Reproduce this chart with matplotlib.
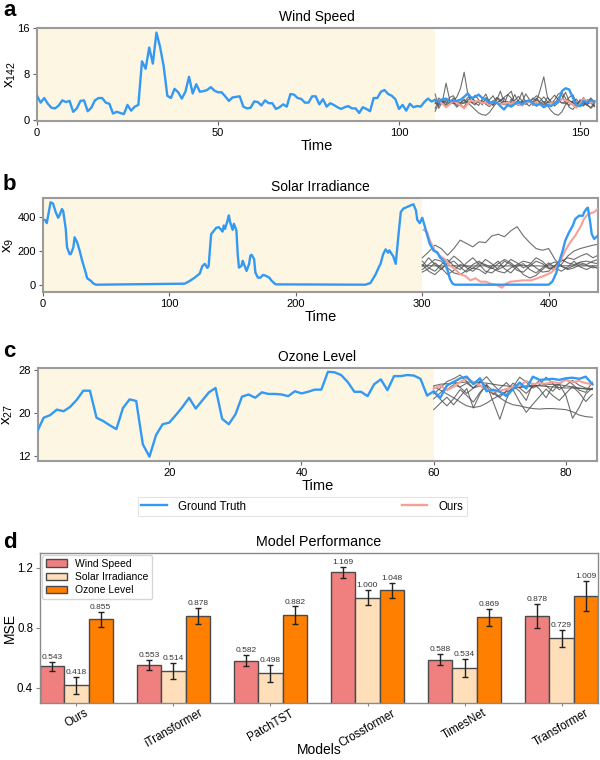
import matplotlib
matplotlib.use('Agg')
import matplotlib.pyplot as plt
import numpy as np
from matplotlib.lines import Line2D

plt.rcParams['font.family'] = ['Liberation Sans', 'DejaVu Sans']
plt.rcParams['mathtext.fontset'] = 'custom'
plt.rcParams['mathtext.rm'] = 'Liberation Sans'
plt.rcParams['mathtext.it'] = 'Liberation Sans:italic'

# ---------------- data ----------------
# Panel a: Wind Speed (x142)
wind_history = [4.2, 3.0, 3.8, 2.8, 2.1, 2.0, 2.5, 3.4, 3.1, 3.3,
                1.4, 2.0, 3.3, 3.4, 1.5, 2.1, 3.4, 3.8, 3.8, 3.0,
                2.8, 1.1, 1.4, 1.2, 1.0, 2.6, 1.6, 2.3, 2.6, 10.2,
                8.9, 12.6, 9.8, 15.2, 12.7, 9.3, 4.2, 3.8, 5.4, 4.8,
                3.7, 4.9, 7.5, 4.6, 6.2, 4.9, 5.0, 5.2, 5.7, 5.1,
                4.8, 4.8, 4.1, 3.3, 3.9, 4.0, 4.1, 2.3, 2.0, 2.1,
                3.2, 3.1, 2.5, 3.4, 2.9, 2.9, 1.9, 2.2, 2.7, 2.3,
                4.5, 4.4, 3.8, 3.65, 3.0, 3.0, 4.1, 4.1, 2.7, 3.6,
                2.3, 2.9, 2.6, 2.2, 1.9, 2.2, 2.4, 2.0, 2.0, 1.2,
                2.2, 1.9, 1.5, 3.8, 3.8, 4.9, 5.2, 4.5, 4.2, 3.6,
                1.9, 2.6, 1.6, 2.8, 2.2, 2.4, 2.3, 3.1, 3.7, 3.2]
wind_future = [3.5, 3.1, 3.6, 3.7, 3.2, 3.4, 3.3, 3.5, 4.0, 4.6,
               3.8, 4.0, 4.4, 3.8, 3.5, 2.9, 3.2, 3.0, 2.4, 1.8,
               2.6, 2.3, 2.8, 3.1, 2.7, 3.2, 3.4, 2.9, 2.5, 2.8,
               2.2, 2.6, 2.4, 2.9, 3.1, 5.0, 5.5, 5.3, 3.9, 2.6,
               2.4, 3.3, 3.0, 3.4, 3.2]
wind_ours = [3.5, 3.2, 2.8, 2.2, 2.7, 3.3, 3.0, 2.5, 2.0, 2.8,
             3.4, 3.1, 3.3, 2.9, 3.0, 2.6, 3.2, 3.1, 2.6, 2.9,
             3.0, 2.8, 3.1, 2.7, 2.5, 3.0, 3.2, 2.8, 3.1, 2.7,
             2.3, 2.5, 3.0, 2.8, 3.2, 3.6, 3.4, 3.1, 2.6, 2.1,
             2.8, 3.7, 3.2, 3.0, 3.3]
wind_others = [
    [2.0, 3.5, 2.8, 3.6, 3.0, 3.3, 4.0, 5.5, 8.3, 4.5, 3.0, 2.6, 3.4, 3.1, 2.8,
     3.5, 4.2, 2.9, 3.3, 3.8, 2.7, 3.1, 4.4, 3.0, 2.6, 3.4, 3.0, 3.8, 3.2, 5.2,
     7.5, 4.0, 3.0, 2.6, 3.9, 4.3, 3.0, 2.5, 3.3, 3.6, 2.8, 2.4, 3.5, 2.9, 2.4],
    [4.5, 2.0, 3.2, 6.4, 3.5, 3.0, 2.2, 3.0, 3.6, 2.8, 3.2, 4.3, 3.5, 2.6, 3.9,
     3.2, 2.5, 3.4, 5.0, 3.1, 2.4, 3.6, 2.9, 3.3, 4.8, 2.7, 3.4, 2.5, 3.8, 3.0,
     2.7, 3.9, 3.2, 2.4, 3.0, 3.6, 4.8, 3.3, 2.9, 2.2, 3.5, 3.0, 2.6, 3.8, 3.1],
    [3.0, 2.5, 3.4, 3.0, 2.8, 3.2, 2.5, 3.0, 3.4, 3.0, 2.4, 1.8, 1.2, 0.9, 0.8,
     1.3, 2.2, 3.0, 3.4, 3.9, 4.4, 3.8, 3.0, 2.6, 3.3, 2.8, 3.2, 3.6, 4.2, 3.8,
     3.0, 2.5, 1.6, 1.0, 0.8, 1.4, 2.6, 3.4, 3.0, 2.7, 3.3, 2.9, 2.5, 2.2, 2.9],
    [2.8, 3.8, 3.3, 2.6, 3.9, 4.2, 3.1, 2.7, 3.0, 3.9, 4.0, 3.0, 2.5, 3.6, 4.5,
     3.0, 2.6, 3.8, 3.2, 2.6, 4.3, 5.0, 3.0, 2.5, 3.1, 4.5, 3.6, 2.8, 2.4, 3.3,
     4.0, 3.2, 2.8, 3.5, 4.5, 4.8, 3.8, 2.2, 1.8, 2.6, 3.0, 3.9, 2.7, 2.0, 2.6],
    [3.3, 2.9, 3.0, 3.3, 3.1, 2.8, 3.2, 3.0, 2.9, 3.3, 3.1, 2.9, 3.2, 3.0, 3.1,
     2.9, 3.3, 3.0, 2.8, 3.2, 3.1, 2.9, 3.0, 3.3, 3.0, 2.8, 3.1, 3.2, 2.9, 3.0,
     3.2, 3.0, 2.9, 3.1, 3.3, 3.0, 2.8, 3.1, 3.2, 2.9, 3.0, 3.1, 2.8, 3.0, 3.1],
    [1.5, 2.9, 3.1, 2.4, 3.0, 3.8, 3.2, 2.6, 2.2, 3.5, 3.8, 3.3, 3.0, 3.4, 2.7,
     2.3, 3.0, 3.9, 3.5, 3.0, 3.2, 2.6, 3.4, 4.1, 3.3, 2.9, 2.4, 3.2, 3.7, 2.9,
     2.5, 3.0, 3.6, 4.3, 3.5, 2.9, 3.2, 3.9, 4.4, 3.1, 2.3, 2.7, 3.3, 3.7, 2.3],
]

# Panel b: Solar Irradiance (x9), (time, value) samples
solar_truth = [(0, 388), (2, 382), (3, 366), (6, 490), (8, 482), (10, 432), (12, 398),
               (13, 412), (15, 450), (16, 437), (18, 332), (19, 222), (21, 182), (22, 182),
               (24, 222), (25, 282), (27, 252), (29, 202), (31, 142), (33, 92), (35, 38),
               (38, 22), (40, 6), (42, 0), (112, 6), (116, 22), (120, 42), (124, 66),
               (126, 110), (128, 124), (130, 100), (131, 110), (133, 300), (137, 338),
               (139, 342), (141, 326), (142, 316), (143, 352), (144, 332), (146, 382),
               (147, 412), (148, 372), (150, 326), (151, 362), (153, 322), (154, 182),
               (155, 102), (157, 112), (158, 142), (159, 122), (161, 82), (163, 122),
               (164, 172), (165, 178), (167, 152), (168, 72), (170, 42), (172, 42),
               (174, 58), (176, 54), (179, 42), (181, 22), (184, 2), (255, 0), (259, 10),
               (263, 60), (266, 110), (267, 124), (269, 180), (271, 210), (273, 190),
               (274, 204), (276, 180), (277, 170), (279, 124), (281, 282), (283, 432),
               (285, 452), (288, 462), (291, 472), (293, 478), (295, 442), (296, 386),
               (298, 366), (300, 398), (302, 346), (304, 292), (306, 242), (309, 202),
               (312, 192), (314, 162), (317, 142), (320, 86), (322, 32), (324, 6),
               (326, 0), (400, 0), (403, 20), (406, 70), (408, 130), (411, 200),
               (413, 260), (416, 310), (419, 350), (421, 390), (424, 410), (427, 410),
               (428, 430), (430, 452), (431, 458), (433, 362), (434, 302), (436, 272),
               (439, 292)]
solar_ours = [(301, 326), (304, 312), (306, 262), (310, 202), (314, 172), (318, 152),
              (322, 112), (326, 92), (330, 62), (334, 52), (338, 26), (342, 38),
              (346, 18), (350, 18), (354, 6), (359, -2), (363, -18), (366, 6),
              (370, 18), (375, 22), (380, 26), (386, 26), (391, 38), (396, 52),
              (402, 72), (406, 102), (410, 152), (413, 202), (417, 252), (421, 292),
              (425, 342), (428, 392), (431, 418), (436, 432), (439, 452)]
solar_other_times = list(range(300, 440, 5)) + [439]
solar_others = [
    [160, 195, 235, 215, 175, 215, 265, 245, 225, 255, 250, 290, 300, 285, 320,
     345, 290, 250, 215, 205, 215, 150, 110, 95, 115, 130, 120, 140, 150],
    [110, 160, 120, 90, 130, 170, 140, 100, 80, 110, 150, 125, 90, 110, 150,
     130, 100, 120, 160, 140, 100, 90, 120, 170, 200, 215, 225, 235, 240],
    [140, 100, 80, 120, 150, 110, 90, 130, 160, 120, 80, 70, 100, 140, 120,
     85, 75, 110, 140, 125, 95, 110, 140, 160, 150, 170, 185, 160, 175],
    [112, 113, 112, 111, 112, 113, 112, 112, 111, 112, 113, 112, 112, 111, 112,
     112, 113, 112, 112, 111, 112, 112, 113, 112, 112, 111, 112, 113, 112],
    [90, 120, 150, 140, 100, 70, 60, 85, 120, 140, 110, 95, 125, 150, 130,
     100, 60, 40, 55, 90, 120, 135, 110, 90, 100, 120, 115, 100, 105],
    [75, 95, 130, 100, 60, 85, 120, 110, 95, 130, 120, 100, 80, 70, 100,
     120, 140, 130, 100, 75, 80, 115, 150, 130, 120, 135, 140, 130, 125],
    [120, 80, 60, 95, 125, 140, 105, 75, 100, 90, 65, 110, 140, 95, 70,
     110, 125, 90, 70, 100, 130, 100, 80, 105, 140, 105, 90, 110, 95],
]

# Panel c: Ozone Level (x27)
ozone_history = [16.5, 19.1, 19.6, 20.6, 20.3, 21.1, 22.4, 24.1, 24.1, 19.1,
                 18.5, 17.7, 17.0, 20.9, 22.5, 22.2, 14.2, 11.9, 15.9, 17.9,
                 18.2, 19.6, 21.1, 22.8, 20.8, 22.3, 23.8, 24.6, 18.9, 17.9,
                 19.7, 23.0, 23.4, 22.8, 23.8, 23.5, 23.5, 23.4, 23.1, 24.0,
                 23.6, 23.9, 24.3, 24.3, 27.6, 27.5, 27.0, 25.7, 23.9, 23.9,
                 23.1, 25.3, 26.2, 24.2, 26.8, 26.8, 27.0, 26.9, 26.3, 23.2]
ozone_future = [24.0, 22.8, 25.1, 25.7, 26.4, 26.7, 25.3, 26.4, 24.0, 24.3,
                23.9, 23.1, 24.4, 25.6, 24.5, 26.7, 26.1, 26.2, 26.3, 26.1,
                26.4, 26.5, 26.3, 26.7, 25.3]
ozone_ours = [24.5, 25.0, 24.2, 24.8, 25.7, 26.4, 25.7, 25.1, 24.4, 23.9,
              24.1, 24.4, 24.8, 25.0, 25.9, 25.3, 25.5, 25.4, 25.7, 25.5,
              26.1, 25.7, 25.9, 25.5, 25.3]
ozone_others = [
    [24.5, 25.0, 24.3, 25.2, 24.8, 25.5, 24.6, 25.0, 24.2, 23.6, 22.8, 22.0, 21.5,
     21.3, 21.0, 20.8, 20.7, 20.8, 20.8, 20.7, 20.6, 20.2, 19.6, 19.3, 19.2],
    [20.6, 21.8, 22.9, 21.5, 23.0, 24.5, 20.9, 23.5, 25.3, 22.0, 18.8, 22.5, 25.0,
     24.0, 22.3, 25.5, 24.4, 22.8, 24.9, 25.3, 23.2, 19.0, 21.0, 23.5, 24.6],
    [23.5, 24.6, 25.8, 26.3, 27.0, 25.8, 24.6, 25.6, 26.7, 25.2, 24.0, 23.4, 24.8,
     26.6, 25.7, 24.6, 25.2, 26.6, 25.4, 24.3, 25.1, 26.0, 25.1, 24.6, 24.4],
    [24.8, 24.2, 23.5, 22.8, 22.0, 21.3, 21.0, 21.2, 21.8, 22.6, 23.3, 23.9, 24.4,
     24.8, 25.0, 25.1, 25.0, 24.9, 24.8, 24.7, 24.6, 24.6, 24.5, 24.5, 24.4],
    [25.0, 25.3, 25.4, 25.5, 25.6, 25.7, 25.7, 25.6, 25.5, 25.3, 25.1, 25.0, 24.8,
     24.7, 24.8, 24.9, 25.1, 25.2, 25.3, 25.2, 25.0, 24.8, 24.6, 24.4, 24.3],
    [23.8, 22.5, 21.3, 22.6, 24.3, 23.2, 22.0, 23.8, 25.2, 24.0, 22.9, 24.1, 25.5,
     24.6, 23.6, 24.9, 26.0, 25.0, 24.0, 25.3, 26.2, 25.3, 24.2, 23.8, 25.7],
    [22.6, 23.7, 24.9, 25.8, 24.7, 23.6, 24.6, 25.9, 24.8, 23.4, 24.5, 25.6, 24.3,
     22.0, 20.1, 21.6, 23.0, 24.4, 23.2, 22.3, 23.6, 24.9, 23.7, 22.1, 23.4],
]

# Panel d: Model Performance
models = ['Ours', 'iTransformer', 'PatchTST', 'Crossformer', 'TimesNet', 'Transformer']
mse_wind = [0.543, 0.553, 0.582, 1.169, 0.588, 0.878]
mse_solar = [0.418, 0.514, 0.498, 1.000, 0.534, 0.729]
mse_ozone = [0.855, 0.878, 0.882, 1.048, 0.869, 1.009]
err_wind = [0.027, 0.031, 0.037, 0.038, 0.038, 0.078]
err_solar = [0.055, 0.055, 0.057, 0.050, 0.059, 0.056]
err_ozone = [0.053, 0.053, 0.060, 0.051, 0.058, 0.100]
series_names = ['Wind Speed', 'Solar Irradiance', 'Ozone Level']

# ---------------- style ----------------
BLUE = '#3399F3'
SALMON = '#F7A196'
GRAY = '#555555'
SHADE = '#FDF6E3'
SPINE = '#9b9b9b'

W, H = 600, 760
fig = plt.figure(figsize=(6, 7.6), dpi=100)


def ax_px(l, t, r, b):
    return fig.add_axes([l / W, 1 - b / H, (r - l) / W, (b - t) / H])


def style_ts(ax, title, ylabel, ylab_x):
    for s in ax.spines.values():
        s.set_color(SPINE)
        s.set_linewidth(1.5)
    ax.tick_params(labelsize=8, length=3, width=0.8, color='#666666', pad=2)
    ax.set_title(title, fontsize=10, pad=5)
    ax.set_xlabel('Time', fontsize=10.5, labelpad=1)
    ax.set_ylabel(ylabel, fontsize=11)
    ax.yaxis.set_label_coords(ylab_x, 0.5)


def draw_ts(ax, t_hist_end, truth_t, truth_v, ours_t, ours_v, others_t, others):
    ax.axvspan(0, t_hist_end, color=SHADE, lw=0, zorder=0)
    for o in others:
        ax.plot(others_t, o, color=GRAY, lw=0.8, alpha=0.85, zorder=2)
    ax.plot(ours_t, ours_v, color=SALMON, lw=1.5, zorder=3)
    ax.plot(truth_t, truth_v, color=BLUE, lw=1.7, zorder=4)


# Panel a
ax_a = ax_px(37, 28, 597, 121)
wind_truth = wind_history + wind_future
t_a = np.arange(len(wind_truth))
t_fut_a = np.arange(len(wind_history), len(wind_truth))
draw_ts(ax_a, len(wind_history), t_a, wind_truth, t_fut_a, wind_ours, t_fut_a, wind_others)
ax_a.set_xlim(0, 154.7)
ax_a.set_ylim(-0.2, 16)
ax_a.set_xticks([0, 50, 100, 150])
ax_a.set_yticks([0, 8, 16])
style_ts(ax_a, 'Wind Speed', r'x$_{142}$', -0.034)

# Panel b
ax_b = ax_px(43, 198, 598, 292)
st, sv = zip(*solar_truth)
ot, ov = zip(*solar_ours)
draw_ts(ax_b, 300, st, sv, ot, ov, solar_other_times, solar_others)
ax_b.set_xlim(0, 439)
ax_b.set_xticks([0, 100, 200, 300, 400])
ax_b.set_yticks([0, 200, 400])
style_ts(ax_b, 'Solar Irradiance', r'x$_{9}$', -0.048)

# Panel c
ax_c = ax_px(37.7, 368, 597, 461)
ozone_truth = ozone_history + ozone_future
t_c = np.arange(len(ozone_truth))
t_fut_c = np.arange(len(ozone_history), len(ozone_truth))
draw_ts(ax_c, len(ozone_history), t_c, ozone_truth, t_fut_c, ozone_ours, t_fut_c, ozone_others)
ax_c.set_xlim(0.1, 84.7)
ax_c.set_ylim(11.1, 28.3)
ax_c.set_xticks([20, 40, 60, 80])
ax_c.set_yticks([12, 20, 28])
style_ts(ax_c, 'Ozone Level', r'x$_{27}$', -0.040)

# shared legend
handles = [Line2D([], [], color=BLUE, lw=1.7), Line2D([], [], color=SALMON, lw=1.7)]
leg = fig.legend(handles, ['Ground Truth', 'Ours'], ncol=2, mode='expand',
                 loc='center', bbox_to_anchor=(138 / W, 1 - 515 / H, 329 / W, 17 / H),
                 fontsize=8.3, frameon=True, fancybox=False, borderpad=0.3,
                 handlelength=2.2, handletextpad=1.0, borderaxespad=0)
leg.get_frame().set_edgecolor('#dddddd')
leg.get_frame().set_linewidth(0.8)

# Panel d
ax_d = ax_px(40, 553, 598, 703)
x = np.arange(len(models))
w = 0.25
colors = ['#F08080', '#FFDFBA', '#FF7F00']
vals = [mse_wind, mse_solar, mse_ozone]
errs = [err_wind, err_solar, err_ozone]
for k in range(3):
    xs = x + (k - 1) * w
    ax_d.bar(xs, vals[k], width=w, color=colors[k], edgecolor='#4a4a4a', linewidth=1.0,
             yerr=errs[k], capsize=2, label=series_names[k],
             error_kw=dict(elinewidth=1.0, ecolor='#222222', capthick=1.0), zorder=2)
    for xi, v, e in zip(xs, vals[k], errs[k]):
        ax_d.text(xi, v + e + 0.006, f'{v:.3f}', ha='center', va='bottom',
                  fontsize=6, color='#333333')
ax_d.set_xlim(-0.375, len(models) - 1 + 0.375)
ax_d.set_ylim(0.3, 1.297)
ax_d.set_yticks([0.4, 0.8, 1.2])
ax_d.set_xticks(x)
ax_d.set_xticklabels(models, rotation=30, ha='center')
ax_d.tick_params(axis='x', labelsize=8.3, length=2, pad=1, color='#888888')
ax_d.tick_params(axis='y', labelsize=8.3, length=3, pad=2, color='#888888')
for s in ax_d.spines.values():
    s.set_color('#8a8a8a')
    s.set_linewidth(1.0)
ax_d.set_title('Model Performance', fontsize=10.3, pad=5)
ax_d.set_xlabel('Models', fontsize=10)
ax_d.xaxis.set_label_coords(0.5, -0.27)
ax_d.set_ylabel('MSE', fontsize=10)
ax_d.yaxis.set_label_coords(-0.041, 0.5)
lg = ax_d.legend(loc='upper left', fontsize=7.5, frameon=True, fancybox=True,
                 borderpad=0.35, handlelength=2.0, labelspacing=0.3, borderaxespad=0.2)
lg.get_frame().set_edgecolor('#cccccc')

# panel letters
for letter, yb in [('a', 16), ('b', 190), ('c', 357), ('d', 548)]:
    fig.text(3 / W, 1 - yb / H, letter, fontsize=16, fontweight='bold', va='baseline')

fig.savefig('out.png', dpi=100)
